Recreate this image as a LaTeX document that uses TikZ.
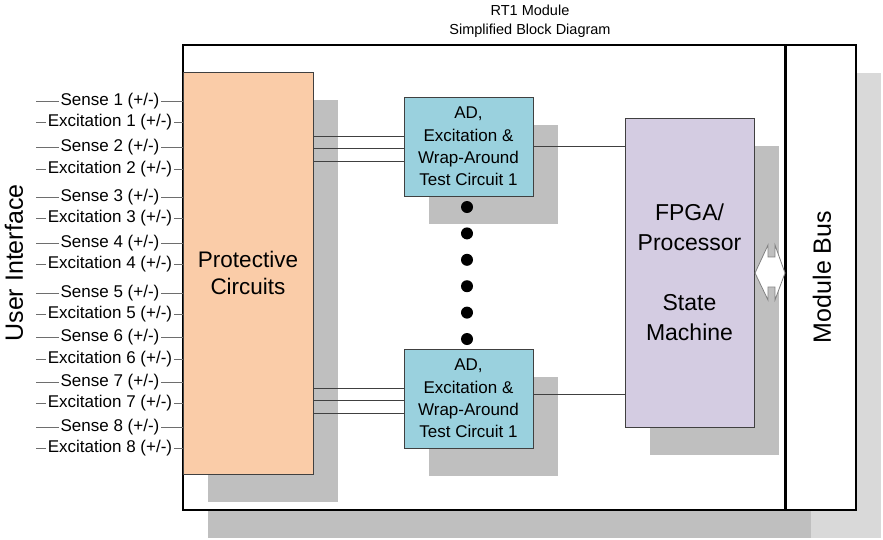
\documentclass[tikz,border=0pt]{standalone}
\usepackage{fontspec}
\setmainfont{Liberation Sans}
\usepackage{tikz}
\usetikzlibrary{
  % for the grey block shadows
  shadows,%
  calc
}
\definecolor{protfill}{RGB}{250,204,168}
\definecolor{adfill}{RGB}{154,209,222}
\definecolor{fpgafill}{RGB}{212,204,226}
\definecolor{shade}{RGB}{191,191,191}
\definecolor{lightshade}{RGB}{217,217,217}
\definecolor{edge}{RGB}{64,64,64}
\definecolor{leadgray}{RGB}{110,110,110}
\tikzset{>=latex}
\tikzset{
  frame/.style={draw=black, line width=1.6pt, fill=white, inner sep=0pt,
    drop shadow={shadow xshift=25pt, shadow yshift=-28pt, fill=#1, opacity=1}},
  block/.style={draw=edge, line width=0.8pt, inner sep=0pt, align=center,
    drop shadow={shadow xshift=25pt, shadow yshift=-28pt, fill=shade, opacity=1}},
  wire/.style={draw=edge, line width=0.8pt},
  lead/.style={draw=leadgray, line width=0.8pt},
  chan/.style={fill=white, inner sep=1.5pt, font=\fontsize{17}{20}\selectfont},
  dot/.style={circle, fill=black, inner sep=0pt, minimum size=12pt}
}
\begin{document}
\begin{tikzpicture}[x=1pt, y=-1pt]
  \useasboundingbox (0,0) rectangle (883,539);
  \node[align=center, font=\fontsize{14.5}{19}\selectfont] (title) at (530,21)
    {RT1 Module\\Simplified Block Diagram};
  % module frame and bus
  \node[frame=shade, minimum width=603pt, minimum height=465pt] (module) at (484.5,277.5) {};
  \node[frame=lightshade, minimum width=70pt, minimum height=465pt] (bus) at (821,277.5) {};
  \draw[line width=2.8pt] (bus.north west) -- (bus.south west);
  \node[rotate=90, font=\fontsize{25}{30}\selectfont] (buslabel) at (822,277) {Module Bus};
  \node[rotate=90, font=\fontsize{25}{30}\selectfont] (ui) at (14,263) {User Interface};
  % blocks
  \node[block, fill=protfill, minimum width=130pt, minimum height=402pt,
    font=\fontsize{22.5}{27}\selectfont] (prot) at (248,273) {Protective\\Circuits};
  \node[block, fill=adfill, minimum width=129pt, minimum height=99pt,
    font=\fontsize{17}{22.3}\selectfont] (ad1) at (468.5,146.5)
    {AD,\\Excitation \&\\Wrap-Around\\Test Circuit 1};
  \node[block, fill=adfill, minimum width=129pt, minimum height=99pt,
    font=\fontsize{17}{22.3}\selectfont] (ad2) at (468.5,398.5)
    {AD,\\Excitation \&\\Wrap-Around\\Test Circuit 1};
  \node[block, fill=fpgafill, minimum width=129pt, minimum height=309pt,
    font=\fontsize{23}{30}\selectfont] (fpga) at (689.5,272.5)
    {FPGA/\\Processor\\[30pt]State\\Machine};
  \foreach \i in {0,...,5}
    \node[dot] (dot\i) at (467,{207+26.4*\i}) {};
  % wires between the blocks
  \foreach \ad/\up in {ad1/0,ad2/4}{
    \foreach \dy [count=\k] in {10,-2,-15}{
      \coordinate (\ad in\k) at ([yshift=\dy pt]\ad.west);
      \draw[wire] (\ad in\k) -- (\ad in\k -| prot.east);
    }
    \coordinate (\ad out) at ([yshift=\up pt]\ad.east);
    \draw[wire] (\ad out) -- (\ad out -| fpga.west);
  }
  \draw[draw=gray, fill=white, line width=0.8pt] (755,273) -- (768,245) -- (768,257)
    -- (775,257) -- (775,245) -- (785,273) -- (775,300) -- (775,287)
    -- (768,287) -- (768,300) -- cycle;
  % user interface channels
  \foreach \n/\ys/\ye in {1/101/122, 2/147/169, 3/197/218, 4/243/264,
      5/293/314, 6/337/359, 7/382/403, 8/427/448}{
    \coordinate (sense\n) at (36,\ys);
    \coordinate (exc\n) at (36,\ye);
    \draw[lead] (sense\n) -- (sense\n -| prot.west);
    \draw[lead] (exc\n) -- (exc\n -| prot.west);
    \node[chan] (senselabel\n) at (110,\ys) {Sense \n\ (+/-)};
    \node[chan] (exclabel\n) at (110,\ye) {Excitation \n\ (+/-)};
  }
\end{tikzpicture}
\end{document}
